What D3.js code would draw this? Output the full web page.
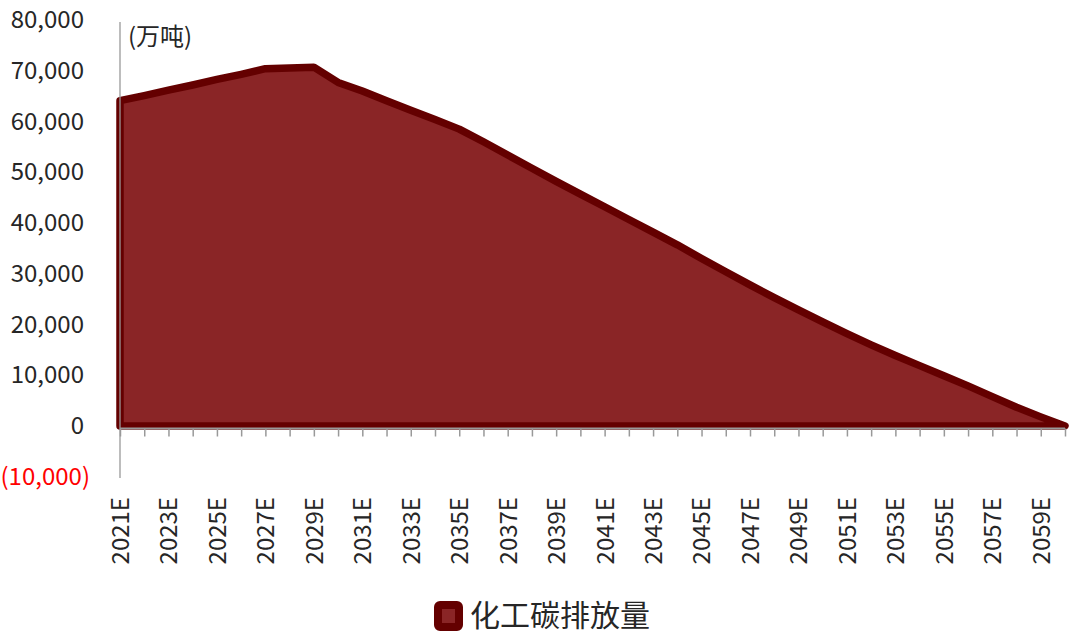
<!DOCTYPE html>
<html>
<head>
<meta charset="utf-8">
<script src="https://cdn.jsdelivr.net/npm/d3@7"></script>
<style>
  html, body { margin: 0; padding: 0; background: #fff; }
  svg { display: block; }
  text { font-family: "Noto Sans CJK SC", "Noto Sans", sans-serif; }
</style>
</head>
<body>
<svg id="chart" width="1080" height="634"></svg>
<script>
// ---- data ----
const years = [];
for (let y = 2021; y <= 2060; y++) years.push(y + "E");
const emissions = [
  64100, 65100, 66200, 67200, 68300, 69300, 70400, 70550, 70700, 67700,
  66000, 64100, 62200, 60400, 58500, 56000, 53400, 50800, 48200, 45700,
  43200, 40700, 38200, 35700, 33000, 30400, 27800, 25300, 22900, 20500,
  18200, 16000, 13900, 11900, 9900, 7900, 5800, 3700, 1800, 0
];
const yTicks = [-10000, 0, 10000, 20000, 30000, 40000, 50000, 60000, 70000, 80000];
const labelYears = years.filter((d, i) => i % 2 === 0);
const seriesName = "化工碳排放量";
const unitLabel = "(万吨)";

const data = years.map((d, i) => ({ year: d, value: emissions[i] }));

// ---- scales ----
const svg = d3.select("#chart");
const x = d3.scalePoint().domain(years).range([120, 1065]);
const y = d3.scaleLinear().domain([-10000, 80000]).range([476.75, 20]);

const fillColor = "#8A2526";
const strokeColor = "#640000";

// ---- area ----
const area = d3.area()
  .x(d => x(d.year))
  .y0(y(0))
  .y1(d => y(d.value));

svg.append("path")
  .datum(data)
  .attr("d", area)
  .attr("fill", fillColor)
  .attr("stroke", strokeColor)
  .attr("stroke-width", 7.5)
  .attr("stroke-linejoin", "round");

// ---- y axis ----
const fmt = d3.format(",");
const yAxis = d3.axisLeft(y)
  .tickValues(yTicks)
  .tickSize(0)
  .tickPadding(0)
  .tickFormat(d => d < 0 ? "(" + fmt(-d) + ")" : fmt(d));

const gy = svg.append("g").attr("transform", "translate(84,0)").call(yAxis);
gy.select(".domain").remove();
gy.selectAll("text")
  .attr("font-size", 24)
  .attr("fill", d => d < 0 ? "#ff0000" : "#262626")
  .attr("dx", d => d < 0 ? 6 : 0);

svg.append("line")
  .attr("x1", 120).attr("x2", 120)
  .attr("y1", 22).attr("y2", 478)
  .attr("stroke", "#999").attr("stroke-width", 1.3);

// ---- x axis (ticks at zero) ----
const xAxisTicks = d3.axisBottom(x).tickSize(8).tickFormat("");
const gx = svg.append("g").attr("transform", `translate(0,${y(0) + 2.5})`).call(xAxisTicks);
gx.select(".domain").attr("stroke", "#999").attr("stroke-width", 2).attr("d", `M120,0H1065`);
gx.selectAll(".tick line").attr("stroke", "#999").attr("stroke-width", 1.5);

// ---- x labels (low position) ----
const xAxisLabels = d3.axisBottom(x).tickValues(labelYears).tickSize(0).tickPadding(0);
const gl = svg.append("g").attr("transform", "translate(0,488)").call(xAxisLabels);
gl.select(".domain").remove();
gl.selectAll("text")
  .attr("font-size", 24)
  .attr("fill", "#262626")
  .attr("text-anchor", "end")
  .attr("transform", "rotate(-90)")
  .attr("x", -9)
  .attr("y", 0)
  .attr("dy", "0.35em");

// ---- unit label ----
svg.append("text")
  .attr("x", 128).attr("y", 45)
  .attr("font-size", 24)
  .attr("fill", "#262626")
  .text(unitLabel);

// ---- legend ----
const lg = svg.append("g").attr("transform", "translate(434,601)");
lg.append("rect")
  .attr("x", 4).attr("y", 4).attr("width", 21).attr("height", 22)
  .attr("fill", fillColor).attr("stroke", strokeColor).attr("stroke-width", 8)
  .attr("rx", 2);
lg.append("text")
  .attr("x", 36).attr("y", 14)
  .attr("dy", "0.35em")
  .attr("font-size", 30)
  .attr("fill", "#262626")
  .text(seriesName);
</script>
</body>
</html>
